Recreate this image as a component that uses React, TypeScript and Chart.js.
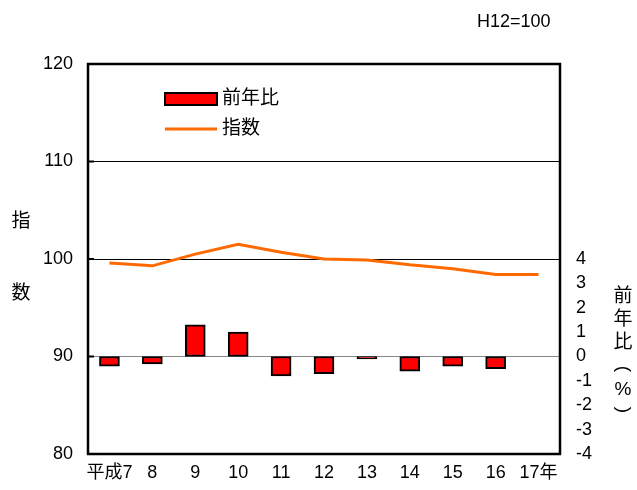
import React, { useEffect, useRef } from "react";
import { Chart, registerables } from "chart.js";

Chart.register(...registerables);

const categories = ["平成7", "8", "9", "10", "11", "12", "13", "14", "15", "16", "17年"];
const indexValues = [99.6, 99.3, 100.5, 101.5, 100.7, 100.0, 99.9, 99.4, 99.0, 98.4, 98.4];
const yoyValues = [-0.4, -0.3, 1.3, 1.0, -0.8, -0.7, -0.1, -0.6, -0.4, -0.5, 0];
const leftTicks = [80, 90, 100, 110, 120];
const rightTickMax = 4;

const FONT = "'Liberation Sans', 'Noto Sans CJK JP', sans-serif";

const decorPlugin = {
  id: "decor",
  afterDatasetsDraw(chart: any) {
    const { ctx, chartArea } = chart;
    const { left, right, top, bottom } = chartArea;
    const yScale = chart.scales.y;
    ctx.save();
    // box
    ctx.strokeStyle = "#000";
    ctx.lineWidth = 2.5;
    ctx.strokeRect(left, top, right - left, bottom - top);
    // inside tick marks
    ctx.lineWidth = 2;
    leftTicks.forEach((v) => {
      const y = yScale.getPixelForValue(v);
      ctx.beginPath();
      ctx.moveTo(left, y);
      ctx.lineTo(left + 6, y);
      ctx.stroke();
    });
    // legend
    ctx.fillStyle = "#ff0000";
    ctx.fillRect(165, 93, 52, 12);
    ctx.strokeStyle = "#000";
    ctx.lineWidth = 2;
    ctx.strokeRect(165, 93, 52, 12);
    ctx.strokeStyle = "#ff6a00";
    ctx.lineWidth = 3;
    ctx.beginPath();
    ctx.moveTo(165, 129);
    ctx.lineTo(217, 129);
    ctx.stroke();
    ctx.fillStyle = "#000";
    ctx.font = "19px " + FONT;
    ctx.textBaseline = "middle";
    ctx.textAlign = "left";
    ctx.fillText("前年比", 222, 99);
    ctx.fillText("指数", 222, 129);
    // note
    ctx.font = "18px " + FONT;
    ctx.fillText("H12=100", 477, 22);
    // left title
    ctx.font = "19px " + FONT;
    ctx.textAlign = "center";
    ctx.fillText("指", 21, 222);
    ctx.fillText("数", 21, 294);
    // right title (vertical)
    ctx.fillText("前", 623, 297);
    ctx.fillText("年", 623, 320);
    ctx.fillText("比", 623, 343);
    ctx.fillText("%", 623, 390);
    const rot = (ch: string, x: number, y: number) => {
      ctx.save();
      ctx.translate(x, y);
      ctx.rotate(Math.PI / 2);
      ctx.fillText(ch, 0, 0);
      ctx.restore();
    };
    rot("(", 623, 369);
    rot(")", 623, 410);
    ctx.restore();
  },
};

export default function App() {
  const ref = useRef<HTMLCanvasElement | null>(null);
  useEffect(() => {
    if (!ref.current) return;
    Chart.defaults.font.family = FONT;
    const chart = new Chart(ref.current, {
      type: "bar",
      data: {
        labels: categories,
        datasets: [
          {
            type: "line",
            label: "指数",
            data: indexValues,
            yAxisID: "y",
            borderColor: "#ff6a00",
            borderWidth: 3,
            pointRadius: 0,
            tension: 0,
            order: 0,
          } as any,
          {
            type: "bar",
            label: "前年比",
            data: yoyValues,
            yAxisID: "y1",
            backgroundColor: "#ff0000",
            borderColor: "#000",
            borderWidth: 2,
            borderSkipped: false,
            barThickness: 20,
            order: 1,
          } as any,
        ],
      },
      options: {
        responsive: false,
        maintainAspectRatio: false,
        animation: false,
        layout: { padding: { top: 64, left: 0, right: 0, bottom: 0 } },
        plugins: { legend: { display: false }, tooltip: { enabled: false }, title: { display: false } },
        scales: {
          x: {
            offset: true,
            grid: { display: false, drawTicks: false },
            border: { display: false },
            ticks: { color: "#000", font: { size: 18 }, padding: 8, maxRotation: 0, autoSkip: false },
            afterFit(scale: any) {
              scale.height = 36;
            },
          },
          y: {
            position: "left",
            min: 80,
            max: 120,
            ticks: { stepSize: 10, color: "#000", font: { size: 18 }, padding: 15, maxTicksLimit: 5 },
            grid: {
              drawTicks: false,
              color: (c: any) => {
                const v = c.tick && c.tick.value;
                if (v === 90) return "#888888";
                if (v === 80 || v === 120) return "rgba(0,0,0,0)";
                return "#000";
              },
              lineWidth: 1,
            },
            border: { display: false },
            afterFit(scale: any) {
              scale.width = 88;
            },
          },
          y1: {
            position: "right",
            min: -4,
            max: 12,
            ticks: {
              stepSize: 1,
              color: "#000",
              font: { size: 18 },
              padding: 16,
              callback: (v: any) => (v <= rightTickMax ? String(v) : null),
            },
            grid: { display: false, drawTicks: false },
            border: { display: false },
            afterFit(scale: any) {
              scale.width = 77;
            },
          },
        },
      },
      plugins: [decorPlugin],
    });
    return () => chart.destroy();
  }, []);
  return (
    <div style={{ position: "fixed", left: 0, top: 0, width: 637, height: 490 }}>
      <canvas ref={ref} width={637} height={490} style={{ display: "block" }} />
    </div>
  );
}
